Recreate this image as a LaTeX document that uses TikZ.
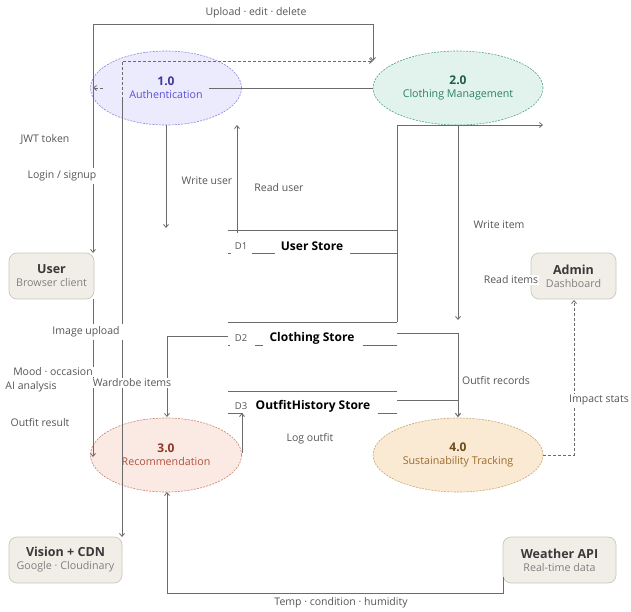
\documentclass[tikz,border=0pt]{standalone}
\usepackage{fontspec}
\setmainfont{Open Sans}
\usetikzlibrary{shapes.geometric,arrows.meta}
\definecolor{lineC}{HTML}{6B6B6B}
\definecolor{labC}{HTML}{555555}
\definecolor{authF}{HTML}{ECEBFD}\definecolor{authB}{HTML}{8C84E0}\definecolor{authT}{HTML}{3F3A99}\definecolor{authS}{HTML}{5B50D6}
\definecolor{cmF}{HTML}{E1F3EC}\definecolor{cmB}{HTML}{4FA488}\definecolor{cmT}{HTML}{1F5E4A}\definecolor{cmS}{HTML}{2E8068}
\definecolor{recF}{HTML}{FBE9E4}\definecolor{recB}{HTML}{C9836F}\definecolor{recT}{HTML}{8A3A26}\definecolor{recS}{HTML}{B0533C}
\definecolor{susF}{HTML}{FAEAD3}\definecolor{susB}{HTML}{C9A46E}\definecolor{susT}{HTML}{6E4A1E}\definecolor{susS}{HTML}{9C6A2E}
\definecolor{boxF}{HTML}{F1EEE8}\definecolor{boxB}{HTML}{CCC8BE}\definecolor{boxT}{HTML}{3A3A3A}\definecolor{boxS}{HTML}{808080}
\tikzset{
  proc/.style={ellipse,inner sep=0pt,line width=0.6pt,dash pattern=on 2pt off 1.2pt,align=center},
  ext/.style={rectangle,rounded corners=8pt,fill=boxF,draw=boxB,line width=0.7pt,align=center,inner sep=0pt},
  flow/.style={draw=lineC,line width=0.8pt},
  arr/.style={-{Straight Barb[length=3pt,width=5pt]}},
  dflow/.style={draw=lineC,line width=0.8pt,dash pattern=on 3pt off 2pt},
  lab/.style={font=\fontsize{10.5}{12}\selectfont,text=labC,inner sep=1.5pt},
  wlab/.style={lab,fill=white,inner sep=3pt},
  store/.style={font=\fontsize{12}{14}\selectfont\bfseries,text=black,inner sep=1pt},
  sid/.style={font=\fontsize{9.5}{11}\selectfont,text=labC,inner sep=1pt},
}
\newcommand{\ptxt}[4]{{\fontsize{12}{14}\selectfont\bfseries\color{#1}#2}\\[1pt]{\fontsize{10.7}{12}\selectfont\color{#3}#4}}
\newcommand{\etxt}[2]{{\fontsize{12.5}{14}\selectfont\bfseries\color{boxT}#1}\\[1pt]{\fontsize{10.7}{12}\selectfont\color{boxS}#2}}
\begin{document}
\begin{tikzpicture}[x=1pt,y=-1pt]
\useasboundingbox[fill=white] (0,0) rectangle (631,612);
% processes
\node[proc,fill=authF,draw=authB,minimum width=151,minimum height=74] (auth) at (166,88)
  {\ptxt{authT}{1.0}{authS}{Authentication}};
\node[proc,fill=cmF,draw=cmB,minimum width=170,minimum height=74] (cm) at (458,88)
  {\ptxt{cmT}{2.0}{cmS}{Clothing Management}};
\node[proc,fill=recF,draw=recB,minimum width=151,minimum height=74] (rec) at (166,455)
  {\ptxt{recT}{3.0}{recS}{Recommendation}};
\node[proc,fill=susF,draw=susB,minimum width=170,minimum height=74] (sus) at (458,455)
  {\ptxt{susT}{4.0}{susS}{Sustainability Tracking}};
% external entities
\node[ext,minimum width=85,minimum height=46] (user) at (51.5,276) {\etxt{User}{Browser client}};
\node[ext,minimum width=85,minimum height=46] (admin) at (573.5,276) {\etxt{Admin}{Dashboard}};
\node[ext,minimum width=113,minimum height=46] (vision) at (65.5,560) {\etxt{Vision + CDN}{Google · Cloudinary}};
\node[ext,minimum width=113,minimum height=46] (weather) at (559.5,560) {\etxt{Weather API}{Real-time data}};
% coordinates
\coordinate (uTop) at (93,253);
\coordinate (uBot) at (93,299);
\coordinate (topL) at (93,24);
\coordinate (topR) at (373,24);
\coordinate (cmIn) at (373,61);
\coordinate (dTop) at (122,61);
\coordinate (dMid) at (122,100);
\coordinate (visIn) at (122,537);
\coordinate (jwtS) at (103,88);
\coordinate (jwtE) at (93,88);
\coordinate (aOut) at (209,88);
\coordinate (cmL) at (373,88);
\coordinate (wuS) at (166,125);
\coordinate (wuE) at (166,228);
\coordinate (ruS) at (237,233);
\coordinate (ruE) at (237,125);
\coordinate (riS) at (397,322);
\coordinate (riB) at (397,125);
\coordinate (riE) at (543,125);
\coordinate (wiS) at (458,125);
\coordinate (wiE) at (458,320);
\coordinate (d2R) at (397,333);
\coordinate (d2B) at (458,333);
\coordinate (d3R) at (397,400);
\coordinate (d3B) at (458,400);
\coordinate (susIn) at (458,417);
\coordinate (d2L) at (228,336);
\coordinate (wbB) at (167,336);
\coordinate (recTop) at (167,417);
\coordinate (recR) at (242,453);
\coordinate (d3Bot) at (242,413);
\coordinate (recL) at (93,457);
\coordinate (weL) at (503,577);
\coordinate (weB) at (503,593);
\coordinate (weC) at (167,593);
\coordinate (recBot) at (167,492);
\coordinate (susR) at (543,455);
\coordinate (imB) at (574,455);
\coordinate (adIn) at (574,300);
% data stores
\draw[flow] (228,230) -- (397,230);
\draw[flow] (228,253) -- (231,253) (252,253) -- (275,253) (350,253) -- (397,253);
\draw[flow] (228,322) -- (397,322);
\draw[flow] (228,345) -- (230,345) (255,345) -- (263,345) (363,345) -- (397,345);
\draw[flow] (228,391) -- (397,391);
\draw[flow] (228,413) -- (243,413) (378,413) -- (397,413);
\node[sid] (d1id) at (241,246) {D1};
\node[store] (d1) at (312,246) {User Store};
\node[sid] (d2id) at (241,338) {D2};
\node[store] (d2) at (312,338) {Clothing Store};
\node[sid] (d3id) at (241,406) {D3};
\node[store] (d3) at (313,406) {OutfitHistory Store};
% flows
\draw[flow,arr] (topL) -- (uTop);
\draw[flow,arr] (topL) -- (topR) -- (cmIn);
\draw[dflow,arr] (dMid) -- (dTop) -- (cmIn);
\draw[dflow,arr] (jwtS) -- (jwtE);
\draw[flow,arr] (dMid) -- (visIn);
\draw[flow] (aOut) -- (cmL);
\draw[flow,arr] (wuS) -- (wuE);
\draw[flow,arr] (ruS) -- (ruE);
\draw[flow,arr] (riS) -- (riB) -- (riE);
\draw[flow,arr] (wiS) -- (wiE);
\draw[flow,arr] (d2R) -- (d2B) -- (susIn);
\draw[flow,arr] (d3R) -- (d3B) -- (susIn);
\draw[flow,arr] (d2L) -- (wbB) -- (recTop);
\draw[flow,arr] (recR) -- (d3Bot);
\draw[flow,arr] (uBot) -- (recL);
\draw[flow,arr] (weL) -- (weB) -- (weC) -- (recBot);
\draw[dflow,arr] (susR) -- (imB) -- (adIn);
% labels
\node[lab] (l1) at (256,13) {Upload · edit · delete};
\node[lab] (l2) at (45,140) {JWT token};
\node[wlab] (l3) at (62,176) {Login / signup};
\node[wlab] (l4) at (207,181) {Write user};
\node[lab] (l5) at (279,188) {Read user};
\node[lab] (l6) at (499,225) {Write item};
\node[wlab,inner sep=1pt] (l7) at (511,280) {Read items};
\node[wlab] (l8) at (86,332) {Image upload};
\node[wlab,inner sep=1pt] (l9) at (53,372) {Mood · occasion};
\node[lab] (l10) at (31,387) {AI analysis};
\node[wlab,inner sep=1pt] (l11) at (132,383) {Wardrobe items};
\node[lab] (l12) at (496,381) {Outfit records};
\node[wlab,anchor=east,inner sep=1pt] (l13) at (630,400) {Impact stats};
\node[lab] (l14) at (40,423) {Outfit result};
\node[lab] (l15) at (310,439) {Log outfit};
\node[lab] (l16) at (341,603) {Temp · condition · humidity};
\end{tikzpicture}
\end{document}
